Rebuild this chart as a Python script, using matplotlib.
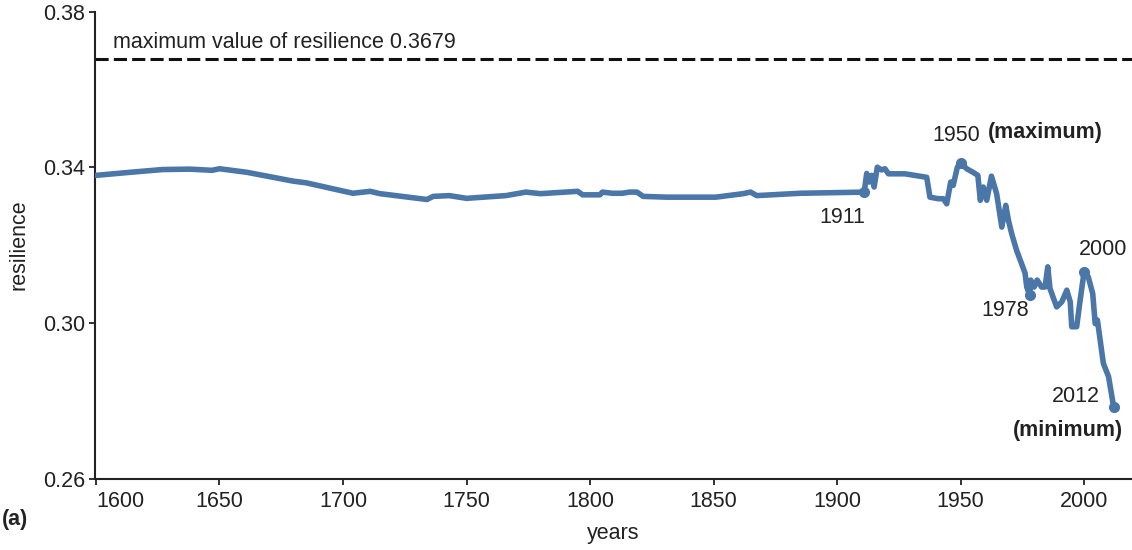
import matplotlib
matplotlib.use("Agg")
import matplotlib.pyplot as plt
from matplotlib.transforms import ScaledTranslation

plt.rcParams['font.family'] = ['Liberation Sans', 'DejaVu Sans']

# resilience index by year
years = [1600, 1614, 1627, 1638, 1647, 1650, 1661, 1680, 1685, 1704,
         1711, 1715, 1734, 1736.5, 1743, 1750, 1766, 1774, 1780, 1795,
         1797, 1804, 1805, 1809, 1813, 1816, 1819, 1821.5, 1831, 1851,
         1862, 1865, 1867.5, 1885, 1911, 1912, 1913, 1914, 1915, 1916.3,
         1918, 1919.4, 1920.8, 1927.5, 1936.3, 1937.6, 1941, 1943, 1944.4, 1946,
         1947, 1948.7, 1950, 1952.5, 1955, 1957, 1958, 1959.2, 1960.6, 1962.5,
         1964.6, 1966.7, 1968.3, 1969.4, 1970.7, 1972.7, 1974.7, 1976.1, 1976.8, 1978,
         1978.4, 1979.8, 1981, 1982.8, 1984.2, 1985.3, 1986.2, 1988.9, 1991, 1993,
         1994.4, 1995, 1997, 1998.4, 2000, 2001.7, 2003.5, 2004.5, 2005.4, 2007.8,
         2009.9, 2012]
resilience = [0.3379, 0.3387, 0.3394, 0.3395, 0.3392, 0.3396, 0.3387, 0.3364, 0.3360, 0.3333,
              0.3338, 0.3332, 0.3317, 0.3325, 0.3327, 0.3320, 0.3327, 0.3336, 0.3332, 0.3338,
              0.3329, 0.3329, 0.3336, 0.3333, 0.3333, 0.3336, 0.3336, 0.3325, 0.3323, 0.3323,
              0.3332, 0.3336, 0.3327, 0.3333, 0.3336, 0.3384, 0.3362, 0.3379, 0.3349, 0.3400,
              0.3393, 0.3396, 0.3383, 0.3383, 0.3374, 0.3323, 0.3319, 0.3319, 0.3306, 0.3362,
              0.3353, 0.3400, 0.3410, 0.3396, 0.3387, 0.3379, 0.3315, 0.3349, 0.3315, 0.3377,
              0.3332, 0.3246, 0.3302, 0.3263, 0.3229, 0.3186, 0.3152, 0.3128, 0.3092, 0.3071,
              0.3110, 0.3092, 0.3110, 0.3092, 0.3092, 0.3144, 0.3088, 0.3041, 0.3054, 0.3084,
              0.3054, 0.2990, 0.2990, 0.3058, 0.3131, 0.3118, 0.3075, 0.2998, 0.3007, 0.2896,
              0.2862, 0.2783]

max_resilience = 0.3679
marked_years = [1911, 1950, 1978, 2000, 2012]
x_ticks = [1600, 1650, 1700, 1750, 1800, 1850, 1900, 1950, 2000]
y_ticks = [0.26, 0.30, 0.34, 0.38]

line_color = '#4a76a8'
text_color = '#222222'
fs = 15.5

fig = plt.figure(figsize=(11.32, 5.5), dpi=100)
ax = fig.add_axes([0.0839, 0.13, 0.9161, 0.849])

ax.plot(years, resilience, color=line_color, lw=4.0, solid_joinstyle='round',
        solid_capstyle='round', zorder=3)
lookup = dict(zip(years, resilience))
ax.plot(marked_years, [lookup[y] for y in marked_years], 'o', color=line_color,
        ms=7, zorder=4)

ax.axhline(max_resilience, color='#111111', lw=2.2, ls=(0, (4.3, 1.7)), zorder=2)
ax.annotate('maximum value of resilience 0.3679', xy=(1606.9, max_resilience),
            xytext=(0, 11.5), textcoords='offset points', ha='left', va='center',
            fontsize=fs, color=text_color)

# event labels
def label(year, text, dx, dy, bold=False, ha='center'):
    ax.annotate(text, xy=(year, lookup[year]), xytext=(dx, dy),
                textcoords='offset points', ha=ha, va='center', fontsize=fs,
                color=text_color, fontweight='bold' if bold else 'normal')

label(1911, '1911', -16, -18)
label(1950, '1950', -3, 20)
label(1950, '(maximum)', 19.5, 22, bold=True, ha='left')
label(1978, '1978', -18, -11)
label(2000, '2000', 14, 16)
label(2012, '2012', -27, 7.5)
label(2012, '(minimum)', -33, -17, bold=True)

ax.set_xlim(1599.6, 2019.4)
ax.set_ylim(0.26, 0.38)
ax.set_xticks(x_ticks)
ax.set_xticklabels([str(t) for t in x_ticks])
ax.set_yticks(y_ticks)
ax.set_yticklabels(['%.2f' % t for t in y_ticks])

# first year label sits just right of the corner
first = ax.get_xticklabels()[0]
first.set_horizontalalignment('left')
first.set_transform(first.get_transform() + ScaledTranslation(3 / 72, 0, fig.dpi_scale_trans))

for side in ['top', 'right']:
    ax.spines[side].set_visible(False)
for side in ['left', 'bottom']:
    ax.spines[side].set_linewidth(1.5)
    ax.spines[side].set_color('#222222')
ax.tick_params(axis='both', direction='out', length=4, width=1.3, color='#222222',
               labelsize=fs, labelcolor=text_color)
ax.tick_params(axis='x', pad=5)
ax.tick_params(axis='y', pad=3)

ax.set_xlabel('years', fontsize=fs, color=text_color, labelpad=8)
ax.set_ylabel('resilience', fontsize=fs, color=text_color, labelpad=10)
fig.text(0.002, 0.055, '(a)', fontsize=fs, fontweight='bold', color=text_color,
         ha='left', va='center')

fig.savefig('out.png', dpi=100)
